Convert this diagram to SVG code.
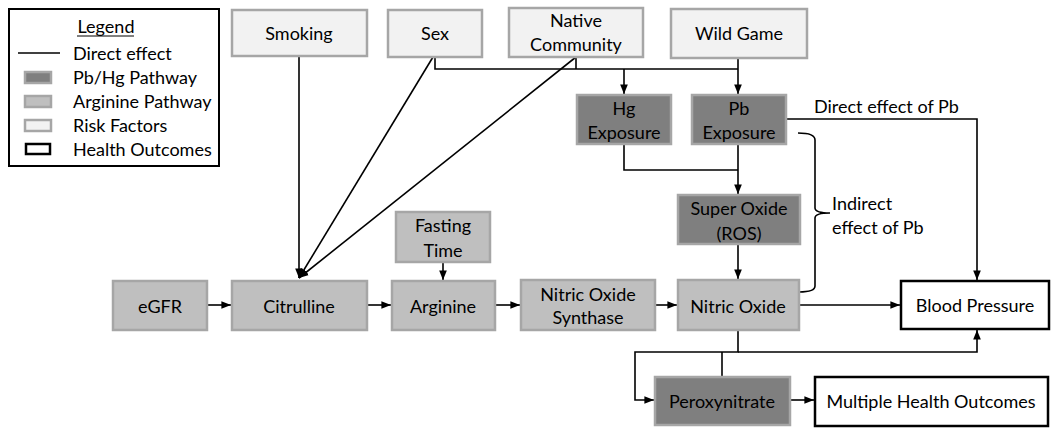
<svg xmlns="http://www.w3.org/2000/svg" width="1053" height="428" viewBox="0 0 1053 428">
<defs>
<style>
text{font-family:Lato,"Open Sans",sans-serif;font-size:18px;fill:#000;text-anchor:middle;dominant-baseline:central}
.lt{text-anchor:start}
.dk{fill:#7f7f7f;stroke:#a6a6a6;stroke-width:2.5}
.md{fill:#bfbfbf;stroke:#a6a6a6;stroke-width:2.5}
.lg{fill:#f2f2f2;stroke:#a6a6a6;stroke-width:2.5}
.ho{fill:#fff;stroke:#000;stroke-width:2.5}
.c{fill:none;stroke:#000;stroke-width:1.6}
</style>
<marker id="a" viewBox="0 0 10 10" refX="10" refY="5" markerWidth="6" markerHeight="6" orient="auto-start-reverse"><path d="M0,1 L10,5 L0,9 z" fill="#000"/></marker>
</defs>
<rect width="1053" height="428" fill="#fff"/>
<g id="legend">
<rect x="9" y="9" width="210" height="157" fill="#fff" stroke="#000" stroke-width="2"/>
<text x="106" y="26">Legend</text>
<line x1="77" y1="36" x2="134" y2="36" stroke="#000" stroke-width="1"/>
<line x1="18" y1="53" x2="60" y2="53" stroke="#000" stroke-width="1.6"/>
<text x="73" y="53" class="lt">Direct effect</text>
<rect x="25" y="72" width="26" height="11" class="dk"/>
<text x="73" y="77" class="lt">Pb/Hg Pathway</text>
<rect x="25" y="96" width="26" height="11" class="md"/>
<text x="73" y="101" class="lt">Arginine Pathway</text>
<rect x="25" y="120" width="26" height="11" class="lg"/>
<text x="73" y="125" class="lt">Risk Factors</text>
<rect x="26" y="144" width="24" height="10" class="ho"/>
<text x="73" y="149" class="lt">Health Outcomes</text>
</g>
<g id="connectors">
<line x1="299" y1="56" x2="299" y2="278" class="c" marker-end="url(#a)"/>
<line x1="433" y1="57" x2="299" y2="278" class="c" marker-end="url(#a)"/>
<line x1="576" y1="57" x2="299" y2="278" class="c" marker-end="url(#a)"/>
<polyline points="435,57 435,69 738,69" class="c"/>
<line x1="576" y1="57" x2="576" y2="69" class="c"/>
<line x1="624" y1="69" x2="624" y2="94" class="c" marker-end="url(#a)"/>
<line x1="738" y1="58" x2="738" y2="94" class="c" marker-end="url(#a)"/>
<polyline points="624,144 624,170 738,170" class="c"/>
<line x1="738" y1="144" x2="738" y2="194" class="c" marker-end="url(#a)"/>
<line x1="738" y1="244" x2="738" y2="279" class="c" marker-end="url(#a)"/>
<polyline points="786,119 977,119 977,280" class="c" marker-end="url(#a)"/>
<path d="M798,133 Q815,133 815,140 L815,208 Q815,213 830,213 Q815,213 815,218 L815,286 Q815,292 799,292" class="c"/>
<line x1="443" y1="262" x2="443" y2="280" class="c" marker-end="url(#a)"/>
<line x1="207" y1="305" x2="231" y2="305" class="c" marker-end="url(#a)"/>
<line x1="367" y1="305" x2="391" y2="305" class="c" marker-end="url(#a)"/>
<line x1="495" y1="305" x2="520" y2="305" class="c" marker-end="url(#a)"/>
<line x1="655" y1="305" x2="677" y2="305" class="c" marker-end="url(#a)"/>
<line x1="799" y1="305" x2="900" y2="305" class="c" marker-end="url(#a)"/>
<polyline points="738,330 738,352 635,352 635,400 654,400" class="c" marker-end="url(#a)"/>
<polyline points="738,352 977,352 977,330" class="c" marker-end="url(#a)"/>
<line x1="722" y1="352" x2="722" y2="377" class="c"/>
<line x1="790" y1="400" x2="814" y2="400" class="c" marker-end="url(#a)"/>
</g>
<text x="814" y="106" class="lt">Direct effect of Pb</text>
<text x="832" y="203" class="lt">Indirect</text>
<text x="832" y="227" class="lt">effect of Pb</text>
<g id="smoking"><rect x="232" y="10" width="135" height="46" class="lg"/><text x="299" y="33">Smoking</text></g>
<g id="sex"><rect x="388" y="10" width="94" height="47" class="lg"/><text x="435" y="33">Sex</text></g>
<g id="native"><rect x="509" y="8" width="134" height="49" class="lg"/><text x="576" y="20">Native</text><text x="576" y="44">Community</text></g>
<g id="wildgame"><rect x="671" y="9" width="136" height="49" class="lg"/><text x="739" y="33">Wild Game</text></g>
<g id="hg"><rect x="577" y="95" width="94" height="49" class="dk"/><text x="624" y="108">Hg</text><text x="624" y="132">Exposure</text></g>
<g id="pb"><rect x="692" y="95" width="94" height="49" class="dk"/><text x="739" y="108">Pb</text><text x="739" y="132">Exposure</text></g>
<g id="superoxide"><rect x="678" y="195" width="122" height="49" class="dk"/><text x="739" y="208">Super Oxide</text><text x="739" y="233">(ROS)</text></g>
<g id="fasting"><rect x="396" y="212" width="94" height="50" class="md"/><text x="443" y="225">Fasting</text><text x="443" y="250">Time</text></g>
<g id="egfr"><rect x="113" y="281" width="94" height="49" class="md"/><text x="160" y="306">eGFR</text></g>
<g id="citrulline"><rect x="232" y="281" width="135" height="49" class="md"/><text x="299" y="306">Citrulline</text></g>
<g id="arginine"><rect x="392" y="281" width="103" height="49" class="md"/><text x="443" y="306">Arginine</text></g>
<g id="nos"><rect x="521" y="280" width="134" height="50" class="md"/><text x="588" y="294">Nitric Oxide</text><text x="588" y="317">Synthase</text></g>
<g id="no"><rect x="678" y="280" width="121" height="50" class="md"/><text x="738" y="306">Nitric Oxide</text></g>
<g id="bp"><rect x="901" y="281" width="148" height="48" class="ho"/><text x="975" y="305">Blood Pressure</text></g>
<g id="peroxy"><rect x="655" y="377" width="135" height="48" class="dk"/><text x="722" y="401">Peroxynitrate</text></g>
<g id="multiple"><rect x="815" y="377" width="233" height="49" class="ho"/><text x="931" y="401">Multiple Health Outcomes</text></g>
</svg>
